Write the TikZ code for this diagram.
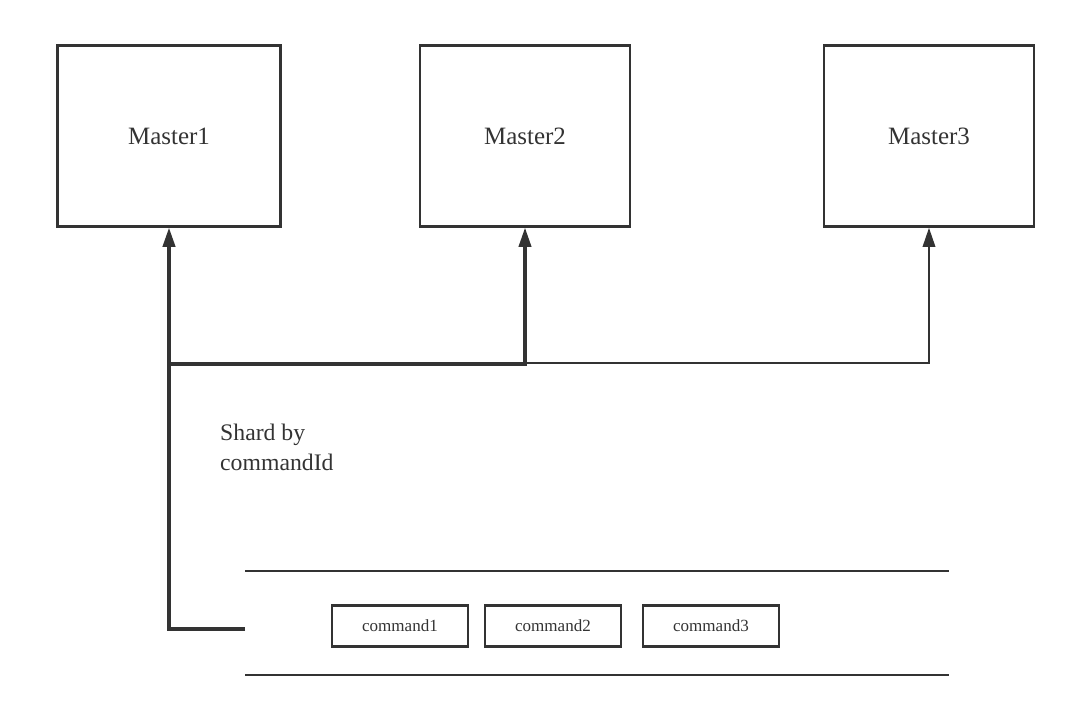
\documentclass[tikz,border=0pt]{standalone}
\usepackage{fontspec}
\setmainfont{Liberation Serif}
\usetikzlibrary{arrows.meta,positioning}
\definecolor{lineGray}{RGB}{51,51,51}

\begin{document}
\begin{tikzpicture}[x=0.02cm,y=-0.02cm,
    master/.style={rectangle, draw=lineGray, text=lineGray, line width=1.3pt, minimum width=4.2cm, minimum height=3.62cm, font=\fontsize{14.2}{16}\selectfont},
    cmd/.style={rectangle, draw=lineGray, text=lineGray, line width=1.3pt, minimum width=2.72cm, minimum height=0.82cm, font=\fontsize{9.7}{11}\selectfont},
    link/.style={draw=lineGray, line width=1.5pt, -{Triangle[width=7pt,length=11pt]}}]
    \useasboundingbox (0,0) rectangle (1080,701);
    % masters
    \node[master, minimum width=4.46cm] (m1) at (169,136) {Master1};
    \node[master] (m2) at (525,136) {Master2};
    \node[master] (m3) at (929,136) {Master3};
    % queue
    \draw[lineGray, line width=1.3pt] (245,571) -- (949,571);
    \draw[lineGray, line width=1.3pt] (245,675) -- (949,675);
    \node[cmd] (c1) at (400,626) {command1};
    \node[cmd] (c2) at (553,626) {command2};
    \node[cmd] (c3) at (711,626) {command3};
    \coordinate (q) at (245,629);
    \coordinate (j) at (169,364);
    % shard links
    \draw[link, line width=1.9pt] (q) -| (m1.south);
    \draw[link, line width=1.8pt] (j) -| (m2.south);
    \draw[link] (m2.south |- 0,363) -| (m3.south);
    \node[align=left, anchor=north west, text=lineGray, font=\fontsize{13.5}{17}\selectfont] (shard) at (214,418) {Shard by\\commandId};
\end{tikzpicture}
\end{document}
